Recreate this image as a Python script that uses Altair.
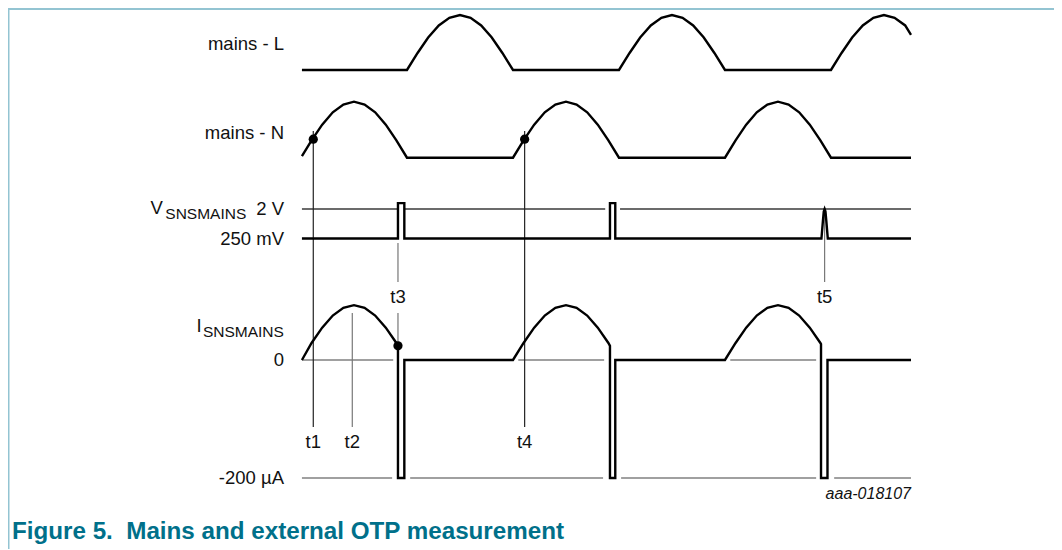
import altair as alt
import pandas as pd

# ---------------- data (time in ms; 10 ms = one mains half-period) ----------------
t_begin, t_end = 0.09, 57.55

# half-sine bump: offset (ms) -> fraction of peak
bump_offset = [0, 1, 2, 3, 4, 5, 6, 7, 8, 9, 10]
bump_shape = [0.0, 0.31, 0.59, 0.81, 0.95, 1.0, 0.95, 0.81, 0.59, 0.31, 0.0]

mains_L_bumps = [10, 30, 50]
mains_L_end_value = 0.64
mains_N_bumps = [0, 20, 40]
mains_N_begin_value = 0.03

# V_SNSMAINS (V)
v_low, v_high, v_top = 0.25, 2.0, 2.35
v_pulse_on = [9.15, 29.15]
v_pulse_off = [9.75, 29.65]
v_spike_t = [49.1, 49.24, 49.32, 49.4, 49.48, 49.56, 49.7]
v_spike_v = [0.25, 1.3, 1.85, 2.0, 1.85, 1.3, 0.25]

# I_SNSMAINS (uA)
i_peak = 93.0
i_low = -200.0
i_bumps = [0, 20, 40]
i_drop_t = [9.15, 29.15, 49.06]
i_drop_v = [24.0, 24.0, 27.0]
i_back_t = [9.75, 29.65, 49.67]

# thin reference lines (start, end)
ref_2v = [(0.09, 9.1), (9.8, 28.7), (30.1, 57.55)]
ref_0 = [(0.09, 8.7), (20.5, 28.6), (40.5, 48.6)]
ref_m200 = [(0.09, 8.6), (10.3, 28.5), (30.2, 48.6), (50.3, 57.55)]

marker_names = ["t1", "t2", "t3", "t4", "t5"]
marker_t = [1.16, 4.84, 9.15, 21.1, 49.4]

# dots: (time, lane, value)
dots = [(1.16, "N", 0.33), (21.1, "N", 0.33), (9.15, "I", 24.0)]

# ---------------- layout (page pixels) ----------------
OFF = 8  # page margin
W, H = 1046, 541
lanes = {"L": (70.0, 55.0), "N": (157.7, 56.0), "V": (242.7, 16.86), "I": (360.0, 0.59)}


def ypix(lane, v):
    base, gain = lanes[lane]
    return base - gain * v - OFF


def bump(start, lo, hi, amp):
    return [(start + o, amp * s) for o, s in zip(bump_offset, bump_shape) if lo <= start + o <= hi]


rows = []


def add(sig, lane, pts):
    for i, (t, v) in enumerate(pts):
        rows.append({"sig": sig, "i": i, "t": t, "py": ypix(lane, v)})


# mains L
pts = [(t_begin, 0.0)]
for s in mains_L_bumps:
    pts += bump(s, t_begin, t_end, 1.0)
pts.append((t_end, mains_L_end_value))
add("L", "L", pts)

# mains N
pts = [(t_begin, mains_N_begin_value)]
for s in mains_N_bumps:
    pts += bump(s, t_begin + 0.01, t_end, 1.0)
pts.append((t_end, 0.0))
add("N", "N", pts)

# V_SNSMAINS
pts = [(t_begin, v_low)]
for on, off in zip(v_pulse_on, v_pulse_off):
    pts += [(on, v_low), (on, v_top), (off, v_top), (off, v_low)]
pts += list(zip(v_spike_t, v_spike_v))
pts.append((t_end, v_low))
add("V", "V", pts)

# I_SNSMAINS
pts = [(t_begin, 0.0)]
for s, dt, dv, bt in zip(i_bumps, i_drop_t, i_drop_v, i_back_t):
    pts += bump(s, t_begin + 0.01, dt - 0.01, i_peak)
    pts += [(dt, dv), (dt, i_low), (bt, i_low), (bt, 0.0)]
pts.append((t_end, 0.0))
add("I", "I", pts)

sig_df = pd.DataFrame(rows)

ref_rows = []
for a, b in ref_2v:
    ref_rows.append({"t0": a, "t1": b, "py": ypix("V", v_high), "kind": "dark"})
for a, b in ref_0:
    ref_rows.append({"t0": a, "t1": b, "py": ypix("I", 0.0), "kind": "gray"})
for a, b in ref_m200:
    ref_rows.append({"t0": a, "t1": b, "py": ypix("I", i_low), "kind": "gray"})
ref_df = pd.DataFrame(ref_rows)

# marker (t-line) vertical extents in page px
mk_spans = {
    "t1": [(131, 427)],
    "t2": [(313, 427)],
    "t3": [(243, 282), (313, 346)],
    "t4": [(131, 427)],
    "t5": [(213, 282)],
}
mk_color = {"t1": "#222222", "t2": "#777777", "t3": "#777777", "t4": "#222222", "t5": "#777777"}
mk_label_y = {"t1": 442, "t2": 442, "t3": 297, "t4": 442, "t5": 297}
mk_rows, mk_lab = [], []
for name, t in zip(marker_names, marker_t):
    for a, b in mk_spans[name]:
        mk_rows.append({"t": t, "py0": a - OFF, "py1": b - OFF, "c": mk_color[name]})
    mk_lab.append({"t": t, "py": mk_label_y[name] - OFF, "text": name})
mk_df = pd.DataFrame(mk_rows)
mk_lab_df = pd.DataFrame(mk_lab)

dot_df = pd.DataFrame([{"t": t, "py": ypix(l, v)} for t, l, v in dots])

# left labels
lab_x = -1.6
right_labels = pd.DataFrame([
    {"t": lab_x, "py": 44 - OFF, "text": "mains - L"},
    {"t": lab_x, "py": 133 - OFF, "text": "mains - N"},
    {"t": lab_x, "py": 209 - OFF, "text": "2 V"},
    {"t": lab_x, "py": 239 - OFF, "text": "250 mV"},
    {"t": lab_x, "py": 360 - OFF, "text": "0"},
    {"t": lab_x, "py": 478 - OFF, "text": "-200 µA"},
])
big_sym = pd.DataFrame([
    {"t": -14.2, "py": 208 - OFF, "text": "V"},
    {"t": -9.85, "py": 326 - OFF, "text": "I"},
])
sub_sym = pd.DataFrame([
    {"t": -12.8, "py": 214 - OFF, "text": "SNSMAINS"},
    {"t": -9.25, "py": 332 - OFF, "text": "SNSMAINS"},
])
code_df = pd.DataFrame([{"t": t_end, "py": 494 - OFF, "text": "aaa-018107"}])

# ---------------- chart ----------------
FONT = "Liberation Sans"
XS = alt.Scale(domain=[-27.64, 71.04], nice=False, zero=False)
YS = alt.Scale(domain=[0, H], reverse=True, nice=False, zero=False)


def X(f):
    return alt.X(f, type="quantitative", scale=XS, axis=None)


def Y(f):
    return alt.Y(f, type="quantitative", scale=YS, axis=None)


refs = alt.Chart(ref_df).mark_rule(strokeWidth=1.3).encode(
    x=X("t0"), x2="t1", y=Y("py"),
    color=alt.Color("kind:N", scale=alt.Scale(domain=["dark", "gray"], range=["#3a3a3a", "#808080"]), legend=None),
)

mk_lines = alt.Chart(mk_df).mark_rule(strokeWidth=1.2).encode(
    x=X("t"), y=Y("py0"), y2="py1", color=alt.Color("c:N", scale=None)
)

signals = alt.Chart(sig_df).mark_line(color="black", strokeWidth=2.4, strokeJoin="miter").encode(
    x=X("t"), y=Y("py"), detail="sig:N", order=alt.Order("i:Q")
)

dots_l = alt.Chart(dot_df).mark_circle(color="black", opacity=1, size=85).encode(x=X("t"), y=Y("py"))

mk_text = alt.Chart(mk_lab_df).mark_text(font=FONT, fontSize=18.5, align="center", baseline="middle", color="#111").encode(
    x=X("t"), y=Y("py"), text="text:N"
)

rlab = alt.Chart(right_labels).mark_text(font=FONT, fontSize=18.5, align="right", baseline="middle", color="#111").encode(
    x=X("t"), y=Y("py"), text="text:N"
)
big = alt.Chart(big_sym).mark_text(font=FONT, fontSize=18.5, align="left", baseline="middle", color="#111").encode(
    x=X("t"), y=Y("py"), text="text:N"
)
sub = alt.Chart(sub_sym).mark_text(font=FONT, fontSize=15.5, align="left", baseline="middle", color="#111").encode(
    x=X("t"), y=Y("py"), text="text:N"
)
code = alt.Chart(code_df).mark_text(font=FONT, fontSize=16, fontStyle="italic", align="right", baseline="middle", color="#111").encode(
    x=X("t"), y=Y("py"), text="text:N"
)

border_top = alt.Chart(pd.DataFrame({"a": [0]})).mark_rule(color="#93c4d2", strokeWidth=2).encode(
    x=alt.value(0), x2=alt.value(W), y=alt.value(1)
)
border_left = alt.Chart(pd.DataFrame({"a": [0]})).mark_rule(color="#93c4d2", strokeWidth=1.5).encode(
    x=alt.value(0.75), y=alt.value(0), y2=alt.value(H)
)
title = alt.Chart(pd.DataFrame({"text": ["Figure 5.\u00a0 Mains and external OTP measurement"]})).mark_text(
    font=FONT, fontSize=24.2, fontWeight="bold", align="left", baseline="middle", color="#00708a"
).encode(x=alt.value(4), y=alt.value(524), text="text:N")

chart = alt.layer(
    border_top, border_left, refs, mk_lines, signals, dots_l, mk_text, rlab, big, sub, code, title
).properties(width=W, height=H, padding=0, autosize=alt.AutoSizeParams(type="none")).configure_view(
    stroke=None
).configure(background="white")

chart.save("out.html", embed_options={"renderer": "svg", "actions": False})
